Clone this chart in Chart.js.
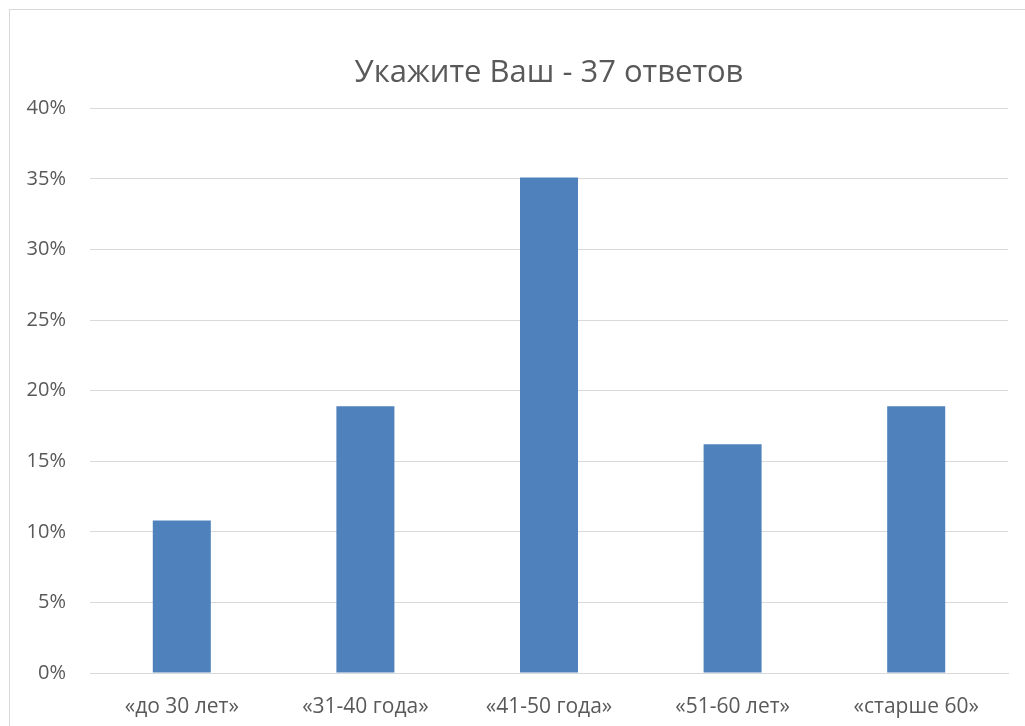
<!DOCTYPE html>
<html>
<head>
<meta charset="utf-8">
<script src="https://cdn.jsdelivr.net/npm/chart.js@4"></script>
<style>
  body { margin: 0; background: #fff; overflow: hidden; }
  #wrap { position: relative; width: 1025px; height: 726px; overflow: hidden; }
  #frame { position: absolute; left: 9px; top: 9px; width: 1040px; height: 740px; border: 1px solid #d9d9d9; }
  #myChart { position: absolute; left: 0; top: 0; }
</style>
</head>
<body>
<div id="wrap">
  <div id="frame"></div>
  <canvas id="myChart" width="1025" height="726"></canvas>
</div>
<script>
const categories = ['«до 30 лет»', '«31-40 года»', '«41-50 года»', '«51-60 лет»', '«старше 60»'];
const shares = [0.108, 0.189, 0.351, 0.162, 0.189];
const chartTitle = 'Укажите Ваш - 37 ответов';

const font = "'Open Sans', 'Noto Sans', sans-serif";

var ctx = document.getElementById('myChart').getContext('2d');
var chart = new Chart(ctx, {
    type: 'bar',
    data: {
        labels: categories,
        datasets: [{
            data: shares,
            backgroundColor: '#4f81bd',
            categoryPercentage: 1,
            barPercentage: 0.316
        }]
    },
    options: {
        responsive: false,
        animation: false,
        layout: { padding: { left: 0, right: 17, top: 0, bottom: 0 } },
        plugins: {
            legend: { display: false },
            tooltip: { enabled: false },
            title: {
                display: true,
                text: chartTitle,
                fullSize: false,
                color: '#595959',
                font: { family: font, size: 31, weight: 'normal' },
                padding: { top: 55, bottom: 16 }
            }
        },
        scales: {
            x: {
                afterFit: function(scale) { scale.height = 53; },
                grid: { display: false, drawTicks: false },
                border: { color: '#d9d9d9' },
                ticks: { color: '#595959', font: { family: font, size: 21 }, padding: 21, maxRotation: 0 }
            },
            y: {
                min: 0,
                max: 0.4,
                afterFit: function(scale) { scale.width = 90; },
                grid: { color: '#d9d9d9', drawTicks: false },
                border: { display: false },
                ticks: {
                    stepSize: 0.05,
                    padding: 24,
                    color: '#595959',
                    font: { family: font, size: 20 },
                    callback: function(v) { return Math.round(v * 100) + '%'; }
                }
            }
        }
    }
});
</script>
</body>
</html>
